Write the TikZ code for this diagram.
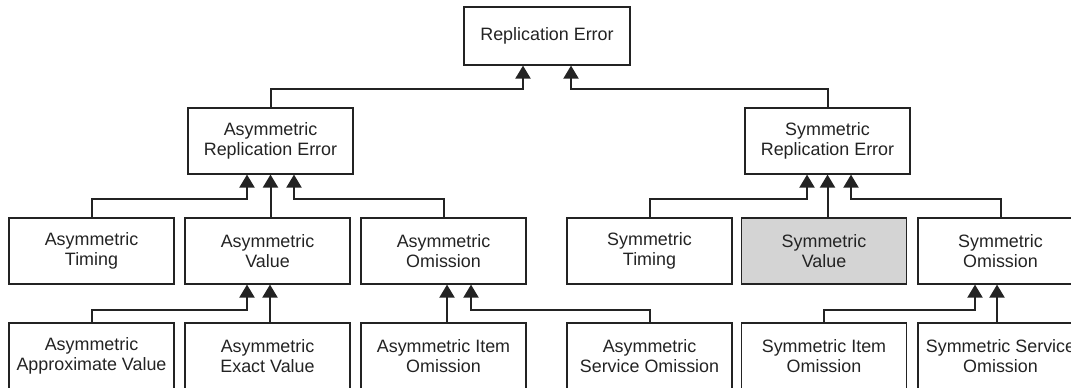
\documentclass[tikz,border=0pt]{standalone}
\usepackage{fontspec}
\setmainfont{Liberation Sans}
\usetikzlibrary{arrows.meta}
\definecolor{boxgray}{RGB}{212,212,212}
\definecolor{ink}{RGB}{35,35,35}
\begin{document}
\begin{tikzpicture}[x=1pt,y=-1pt,
  box/.style={draw=ink, line width=1.2pt, minimum width=165pt, minimum height=66pt,
    align=center, font=\fontsize{17.9}{20.7}\selectfont, text=ink, inner sep=0pt},
  arr/.style={line width=2pt, draw=ink, -{Triangle[width=15pt,length=13pt]}}]
\useasboundingbox (0,0) rectangle (1071,388);
\clip (0,0) rectangle (1071,388);

% nodes
\node[box, minimum width=166pt, minimum height=58pt] (top) at (547,36) {Replication Error};
\node[box] (asre) at (270.5,141) {Asymmetric\\Replication Error};
\node[box] (sre) at (827.5,141) {Symmetric\\Replication Error};

\node[box] (at) at (91.5,251) {Asymmetric\\Timing};
\node[box] (av) at (267.5,251) {Asymmetric\\Value};
\node[box] (ao) at (443.5,251) {Asymmetric\\Omission};
\node[box] (st) at (649.5,251) {Symmetric\\Timing};
\node[box, fill=boxgray] (sv) at (824,251) {Symmetric\\Value};
\node[box] (so) at (1000.5,251) {Symmetric\\Omission};

\node[box] (aav) at (91.5,356) {Asymmetric\\Approximate Value};
\node[box] (aev) at (267.5,356) {Asymmetric\\Exact Value};
\node[box] (aio) at (443.5,356) {Asymmetric Item\\Omission};
\node[box] (aso) at (649.5,356) {Asymmetric\\Service Omission};
\node[box] (sio) at (824,356) {Symmetric Item\\Omission};
\node[box] (sso) at (1000.5,356) {Symmetric Service\\Omission};

% junction coordinates
\coordinate (t1) at (523,89);
\coordinate (t2) at (571,89);
\coordinate (a1) at (247,199);
\coordinate (a3) at (294,199);
\coordinate (s1) at (807,199);
\coordinate (s3) at (851,199);
\coordinate (v1) at (247,310);
\coordinate (v2) at (270,310);
\coordinate (o1) at (447,310);
\coordinate (o2) at (471,310);
\coordinate (p1) at (975,310);
\coordinate (p2) at (997,310);

% connectors level 2 -> 1
\draw[arr] (asre.north) |- (t1) -- (t1 |- top.south);
\draw[arr] (sre.north) |- (t2) -- (t2 |- top.south);

% level 3 -> 2
\draw[arr] (at.north) |- (a1) -- (a1 |- asre.south);
\draw[arr] (asre.south |- av.north) -- (asre.south);
\draw[arr] (ao.north) |- (a3) -- (a3 |- asre.south);
\draw[arr] (st.north) |- (s1) -- (s1 |- sre.south);
\draw[arr] (sre.south |- sv.north) -- (sre.south);
\draw[arr] (so.north) |- (s3) -- (s3 |- sre.south);

% level 4 -> 3
\draw[arr] (aav.north) |- (v1) -- (v1 |- av.south);
\draw[arr] (v2 |- aev.north) -- (v2 |- av.south);
\draw[arr] (o1 |- aio.north) -- (o1 |- ao.south);
\draw[arr] (aso.north) |- (o2) -- (o2 |- ao.south);
\draw[arr] (sio.north) |- (p1) -- (p1 |- so.south);
\draw[arr] (p2 |- sso.north) -- (p2 |- so.south);
\end{tikzpicture}
\end{document}
